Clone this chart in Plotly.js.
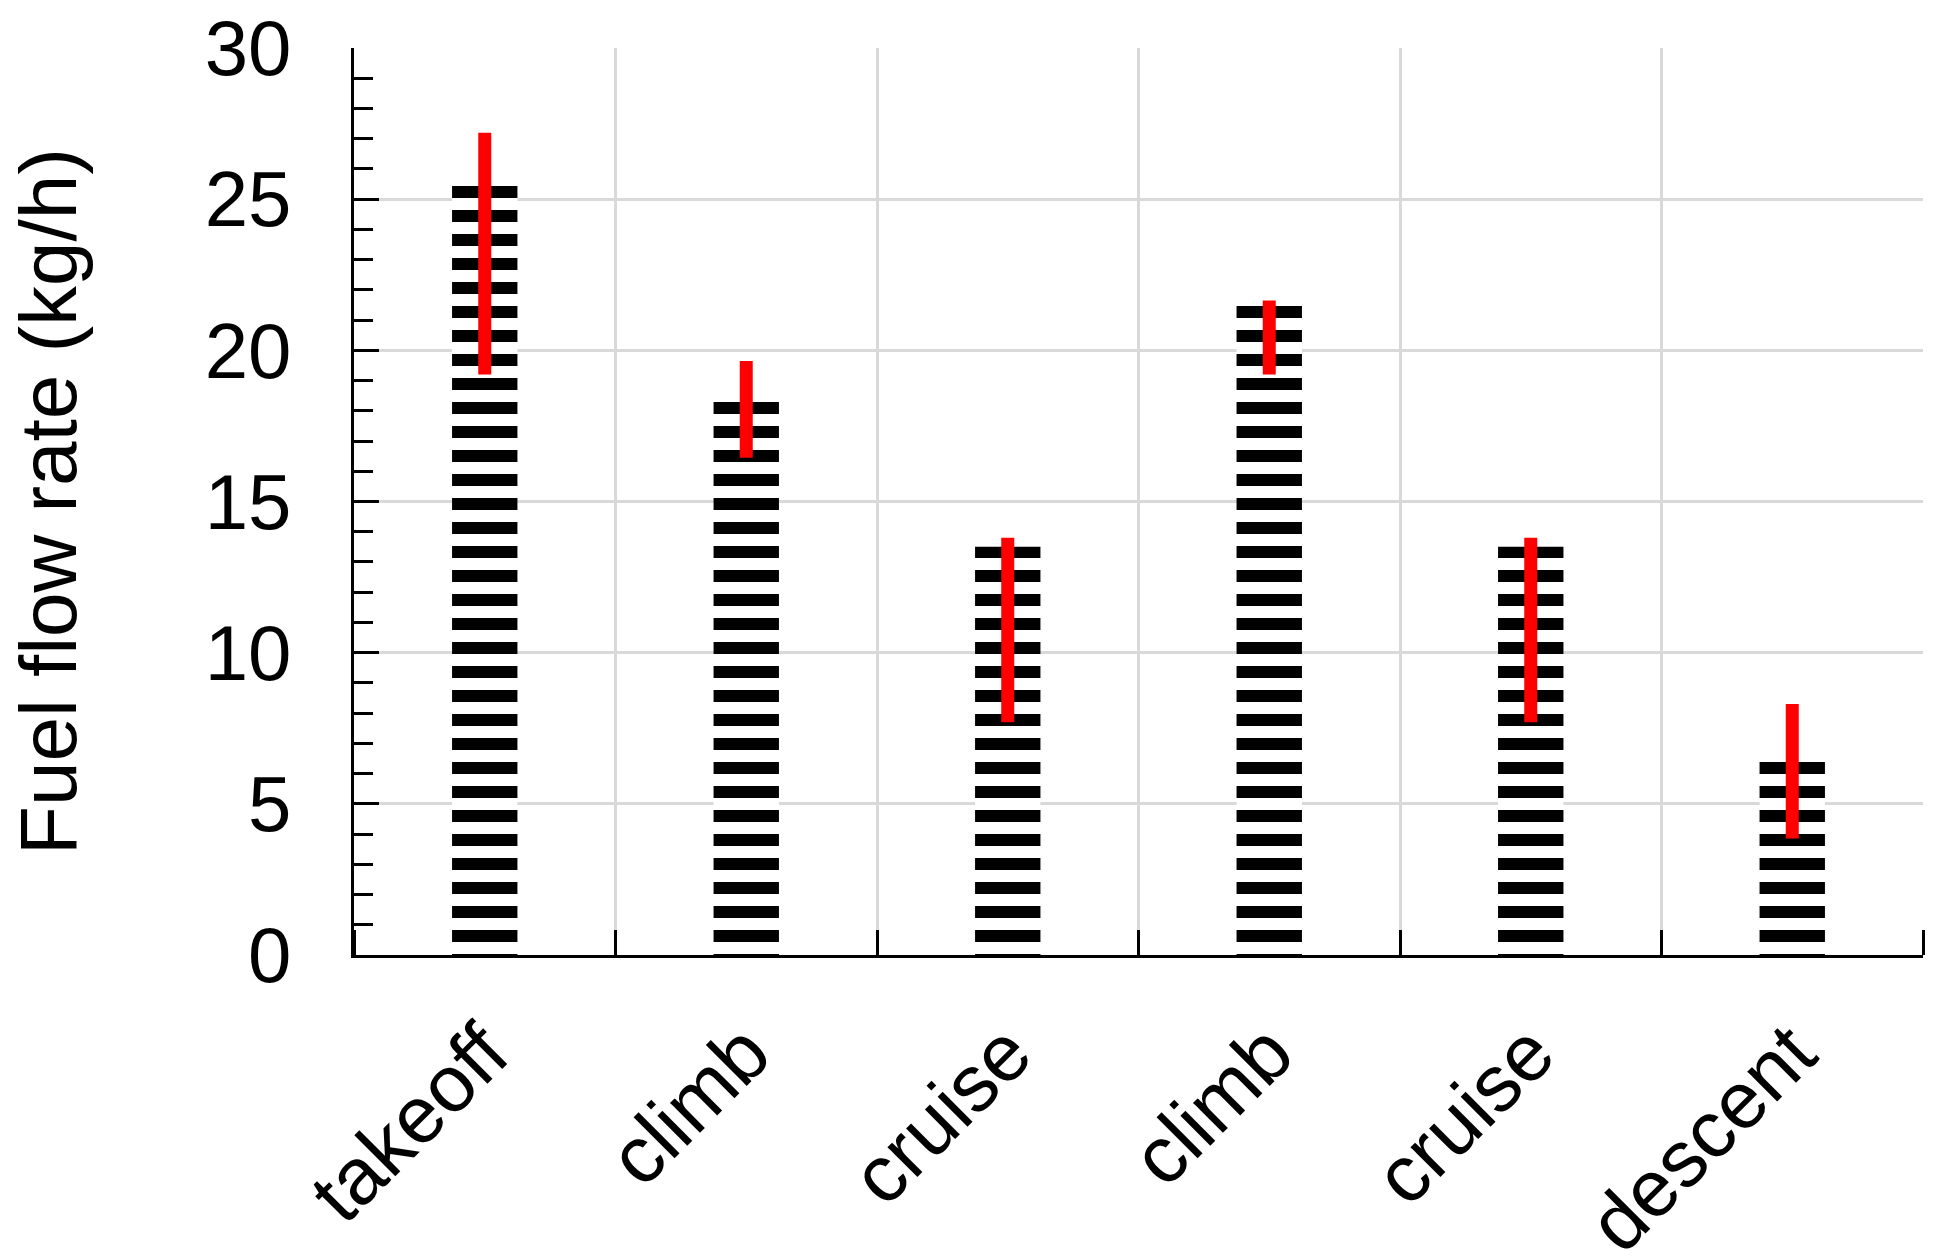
<!DOCTYPE html>
<html>
<head>
<meta charset="utf-8">
<script src="https://cdn.plot.ly/plotly-3.0.1.min.js"></script>
<style>html,body{margin:0;padding:0;background:#fff;}#chart{width:1945px;height:1260px;}</style>
</head>
<body>
<div id="chart"></div>
<script>
// Flight phases (category labels)
const phases = ['takeoff', 'climb', 'cruise', 'climb', 'cruise', 'descent'];
// Mean fuel flow rate (kg/h)
const fuelFlow = [25.8, 18.3, 13.5, 21.5, 13.5, 6.4];
// Range of fuel flow rate (kg/h)
const rangeMax = [27.2, 19.65, 13.8, 21.65, 13.8, 8.3];
const rangeMin = [19.2, 16.45, 7.7, 19.2, 7.7, 3.85];
// y-axis ticks
const yTicks = [0, 5, 10, 15, 20, 25, 30];

const xPos = phases.map((_, i) => i);
const errPlus = fuelFlow.map((v, i) => rangeMax[i] - v);
const errMinus = fuelFlow.map((v, i) => v - rangeMin[i]);

const FONT = 'Arial, "Liberation Sans", sans-serif';

const trace = {
  type: 'bar',
  x: xPos,
  y: fuelFlow,
  width: 0.25,
  marker: {
    color: 'black',
    line: {width: 0},
    pattern: {shape: '-', size: 24, solidity: 0.5, fgcolor: 'white', bgcolor: 'black', fillmode: 'replace'}
  },
  error_y: {
    type: 'data', symmetric: false,
    array: errPlus, arrayminus: errMinus,
    color: '#ff0000', thickness: 13, width: 0
  },
  showlegend: false,
  hoverinfo: 'skip'
};

const layout = {
  width: 1945, height: 1260,
  margin: {l: 354, r: 22, t: 48, b: 305, autoexpand: false},
  paper_bgcolor: 'white', plot_bgcolor: 'white',
  font: {family: FONT, size: 78, color: 'black'},
  showlegend: false,
  xaxis: {
    range: [-0.5, 5.5],
    tickmode: 'array', tickvals: xPos, ticktext: phases,
    tickangle: -45,
    ticks: '', showgrid: false, zeroline: false,
    showline: true, linecolor: 'black', linewidth: 3,
    ticklabelstandoff: 16,
    tickfont: {family: FONT, size: 80, color: 'black'},
    minor: {
      tickmode: 'linear', tick0: 0.5, dtick: 1,
      ticks: 'inside', ticklen: 25, tickwidth: 3, tickcolor: 'black',
      showgrid: true, gridcolor: '#d9d9d9', gridwidth: 3
    }
  },
  yaxis: {
    range: [0, 30],
    tickmode: 'array', tickvals: yTicks,
    ticks: 'inside', ticklen: 25, tickwidth: 3, tickcolor: 'black',
    showline: true, linecolor: 'black', linewidth: 3,
    showgrid: true, gridcolor: '#d9d9d9', gridwidth: 3,
    zeroline: false,
    ticklabelstandoff: 44,
    automargin: true,
    tickfont: {family: FONT, size: 78, color: 'black'},
    minor: {tickmode: 'linear', tick0: 0, dtick: 1, ticks: 'inside', ticklen: 19, tickwidth: 3, tickcolor: 'black', showgrid: false},
    title: {text: 'Fuel flow rate (kg/h)', standoff: 102, font: {family: FONT, size: 80, color: 'black'}}
  }
};

Plotly.newPlot('chart', [trace], layout, {displayModeBar: false, staticPlot: true});
</script>
</body>
</html>
